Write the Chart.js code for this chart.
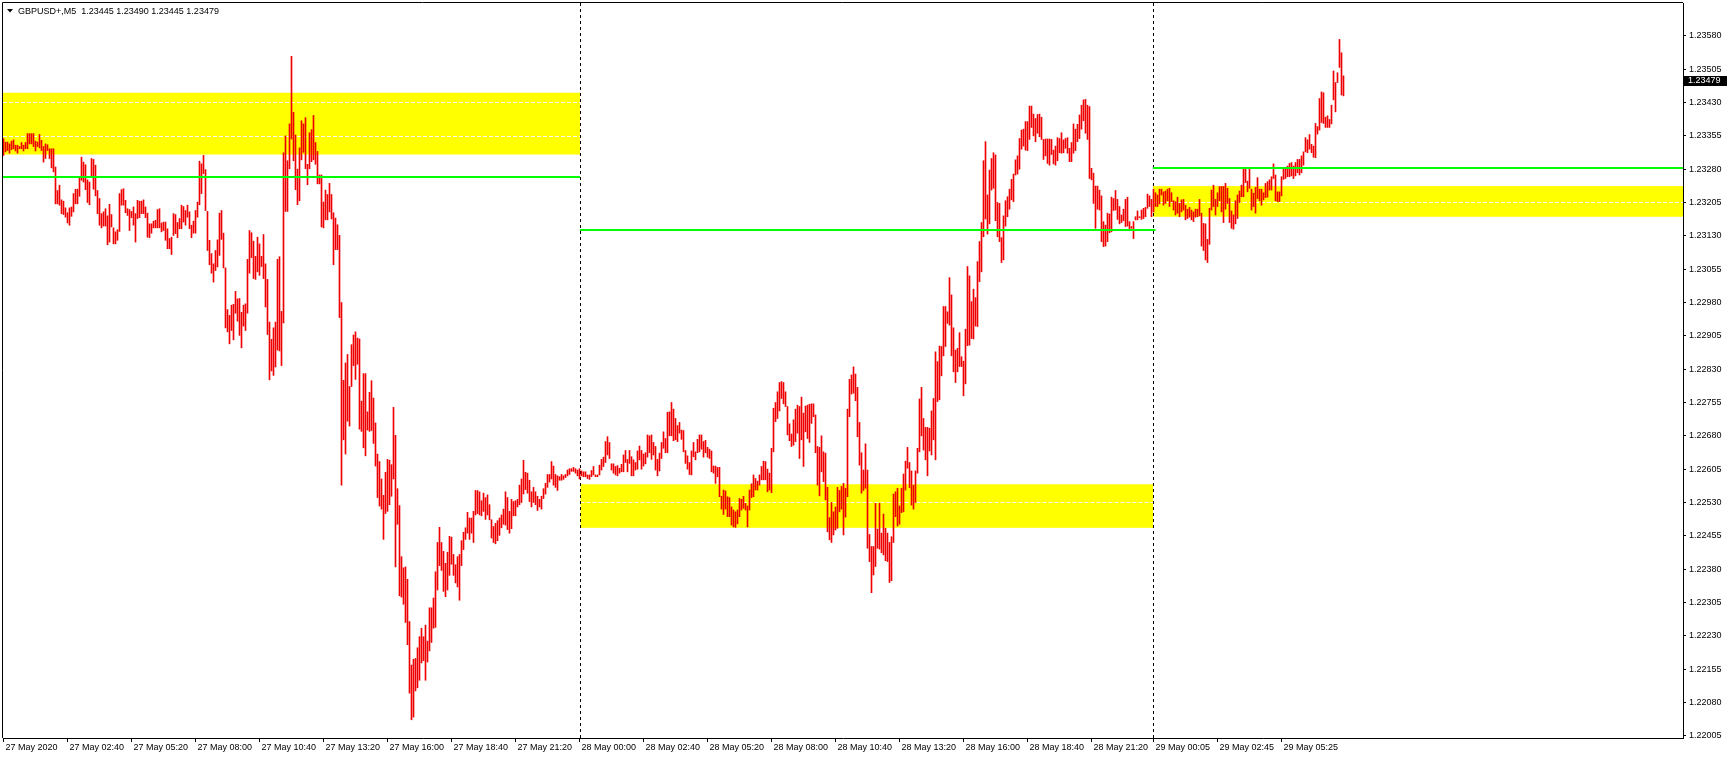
<!DOCTYPE html>
<html>
<head>
<meta charset="utf-8">
<script src="https://cdn.jsdelivr.net/npm/chart.js@4.4.0/dist/chart.umd.min.js"></script>
<style>
  html, body { margin: 0; padding: 0; background: #fff; }
</style>
</head>
<body>
<canvas id="chart" width="1729" height="759"></canvas>
<script>
// header info, last bar O H L C
const symbolName = 'GBPUSD+,M5';
const lastBar = [1.23445, 1.23490, 1.23445, 1.23479];

// time axis: one slot per M5 bar
const tickSlots = [0, 32, 64, 96, 128, 160, 192, 224, 256, 288, 320, 352, 384, 416, 448, 480, 512, 544, 575, 607, 639];
const tickLabels = ['27 May 2020', '27 May 02:40', '27 May 05:20', '27 May 08:00', '27 May 10:40', '27 May 13:20',
  '27 May 16:00', '27 May 18:40', '27 May 21:20', '28 May 00:00', '28 May 02:40', '28 May 05:20', '28 May 08:00',
  '28 May 10:40', '28 May 13:20', '28 May 16:00', '28 May 18:40', '28 May 21:20', '29 May 00:05', '29 May 02:45', '29 May 05:25'];
const priceTicks = [1.22005, 1.22080, 1.22155, 1.22230, 1.22305, 1.22380, 1.22455, 1.22530, 1.22605, 1.22680, 1.22755,
  1.22830, 1.22905, 1.22980, 1.23055, 1.23130, 1.23205, 1.23280, 1.23355, 1.23430, 1.23505, 1.23580];

const barHigh = [
  1.23349,1.23341,1.23341,1.23337,1.23343,1.23346,1.23334,1.23334,1.23331,1.23340,
  1.23334,1.23340,1.23360,1.23360,1.23360,1.23360,1.23343,1.23341,1.23358,1.23345,
  1.23331,1.23337,1.23335,1.23326,1.23326,1.23326,1.23285,1.23232,1.23244,1.23211,
  1.23208,1.23193,1.23182,1.23193,1.23195,1.23225,1.23235,1.23235,1.23262,1.23307,
  1.23296,1.23290,1.23256,1.23251,1.23304,1.23302,1.23289,1.23232,1.23214,1.23180,
  1.23184,1.23191,1.23175,1.23201,1.23178,1.23148,1.23139,1.23144,1.23225,1.23234,
  1.23236,1.23210,1.23191,1.23189,1.23185,1.23195,1.23180,1.23210,1.23208,1.23208,
  1.23211,1.23195,1.23181,1.23157,1.23157,1.23163,1.23165,1.23189,1.23191,1.23159,
  1.23161,1.23161,1.23146,1.23124,1.23127,1.23180,1.23178,1.23160,1.23169,1.23199,
  1.23196,1.23187,1.23199,1.23184,1.23154,1.23163,1.23187,1.23206,1.23298,1.23292,
  1.23311,1.23279,1.23185,1.23120,1.23090,1.23067,1.23097,1.23121,1.23181,1.23187,
  1.23136,1.23058,1.22964,1.22951,1.22974,1.22976,1.23005,1.22988,1.22989,1.22958,
  1.22974,1.22977,1.23077,1.23142,1.23137,1.23118,1.23084,1.23127,1.23112,1.23084,
  1.23133,1.23067,1.23032,1.22936,1.22897,1.22923,1.22936,1.23077,1.23083,1.22960,
  1.23317,1.23355,1.23299,1.23382,1.23534,1.23408,1.23357,1.23280,1.23328,1.23389,
  1.23382,1.23396,1.23291,1.23362,1.23369,1.23401,1.23340,1.23320,1.23267,1.23267,
  1.23206,1.23233,1.23223,1.23248,1.23223,1.23182,1.23170,1.23155,1.23131,1.22980,
  1.22805,1.22844,1.22863,1.22791,1.22885,1.22907,1.22914,1.22900,1.22898,1.22758,
  1.22820,1.22820,1.22734,1.22778,1.22804,1.22765,1.22709,1.22639,1.22622,1.22583,
  1.22546,1.22598,1.22627,1.22625,1.22615,1.22744,1.22681,1.22561,1.22523,1.22408,
  1.22383,1.22385,1.22357,1.22262,1.22164,1.22177,1.22179,1.22203,1.22228,1.22247,
  1.22228,1.22254,1.22218,1.22293,1.22293,1.22315,1.22374,1.22440,1.22474,1.22440,
  1.22420,1.22393,1.22418,1.22454,1.22452,1.22413,1.22390,1.22408,1.22413,1.22444,
  1.22463,1.22473,1.22508,1.22495,1.22495,1.22510,1.22557,1.22557,1.22554,1.22534,
  1.22551,1.22541,1.22547,1.22525,1.22491,1.22476,1.22483,1.22489,1.22495,1.22502,
  1.22515,1.22554,1.22541,1.22510,1.22537,1.22532,1.22534,1.22537,1.22569,1.22583,
  1.22625,1.22598,1.22596,1.22580,1.22554,1.22564,1.22554,1.22544,1.22537,1.22544,
  1.22561,1.22573,1.22593,1.22593,1.22622,1.22612,1.22593,1.22590,1.22588,1.22593,
  1.22590,1.22593,1.22603,1.22606,1.22606,1.22609,1.22606,1.22603,1.22606,1.22601,
  1.22599,1.22599,1.22592,1.22592,1.22602,1.22611,1.22592,1.22592,1.22614,1.22627,
  1.22632,1.22667,1.22678,1.22665,1.22617,1.22617,1.22611,1.22613,1.22607,1.22616,
  1.22637,1.22647,1.22627,1.22647,1.22633,1.22626,1.22620,1.22646,1.22657,1.22647,
  1.22639,1.22642,1.22682,1.22680,1.22682,1.22665,1.22656,1.22627,1.22641,1.22665,
  1.22689,1.22674,1.22733,1.22734,1.22755,1.22740,1.22719,1.22703,1.22710,1.22693,
  1.22692,1.22647,1.22635,1.22620,1.22646,1.22665,1.22644,1.22672,1.22682,1.22682,
  1.22667,1.22670,1.22654,1.22650,1.22646,1.22612,1.22612,1.22609,1.22609,1.22544,
  1.22558,1.22556,1.22543,1.22541,1.22520,1.22513,1.22509,1.22513,1.22539,1.22537,
  1.22544,1.22528,1.22522,1.22558,1.22572,1.22592,1.22584,1.22578,1.22592,1.22611,
  1.22623,1.22622,1.22605,1.22596,1.22652,1.22742,1.22755,1.22779,1.22800,1.22802,
  1.22800,1.22779,1.22746,1.22707,1.22684,1.22716,1.22740,1.22749,1.22746,1.22767,
  1.22731,1.22747,1.22749,1.22751,1.22752,1.22752,1.22727,1.22656,1.22654,1.22680,
  1.22644,1.22641,1.22564,1.22496,1.22530,1.22509,1.22520,1.22564,1.22557,1.22566,
  1.22573,1.22562,1.22740,1.22807,1.22817,1.22835,1.22819,1.22789,1.22710,1.22642,
  1.22603,1.22662,1.22603,1.22458,1.22431,1.22431,1.22528,1.22470,1.22528,1.22461,
  1.22504,1.22472,1.22461,1.22440,1.22453,1.22549,1.22554,1.22562,1.22522,1.22562,
  1.22594,1.22623,1.22654,1.22620,1.22601,1.22569,1.22601,1.22652,1.22763,1.22789,
  1.22719,1.22699,1.22699,1.22697,1.22736,1.22764,1.22869,1.22847,1.22882,1.22881,
  1.22971,1.22971,1.22959,1.23036,1.22997,1.22923,1.22873,1.22877,1.22912,1.22858,
  1.22848,1.22920,1.23061,1.23040,1.22982,1.23010,1.22991,1.23072,1.23117,1.23160,
  1.23299,1.23342,1.23222,1.23278,1.23304,1.23317,1.23312,1.23205,1.23203,1.23126,
  1.23175,1.23209,1.23218,1.23235,1.23257,1.23269,1.23301,1.23310,1.23349,1.23368,
  1.23370,1.23387,1.23387,1.23422,1.23422,1.23404,1.23394,1.23403,1.23404,1.23397,
  1.23347,1.23348,1.23348,1.23348,1.23347,1.23323,1.23332,1.23351,1.23349,1.23362,
  1.23346,1.23349,1.23351,1.23327,1.23340,1.23382,1.23370,1.23381,1.23402,1.23424,
  1.23436,1.23437,1.23424,1.23421,1.23282,1.23271,1.23242,1.23242,1.23233,1.23220,
  1.23162,1.23154,1.23181,1.23179,1.23217,1.23214,1.23232,1.23212,1.23196,1.23177,
  1.23190,1.23212,1.23217,1.23162,1.23151,1.23162,1.23173,1.23186,1.23173,1.23188,
  1.23192,1.23194,1.23224,1.23220,1.23212,1.23235,1.23227,1.23222,1.23235,1.23235,
  1.23229,1.23231,1.23235,1.23237,1.23227,1.23209,1.23207,1.23217,1.23203,1.23211,
  1.23212,1.23199,1.23190,1.23194,1.23188,1.23184,1.23190,1.23190,1.23212,1.23181,
  1.23158,1.23157,1.23122,1.23192,1.23233,1.23244,1.23212,1.23227,1.23241,1.23241,
  1.23241,1.23248,1.23237,1.23214,1.23186,1.23177,1.23209,1.23222,1.23231,1.23244,
  1.23282,1.23282,1.23253,1.23282,1.23235,1.23226,1.23239,1.23261,1.23235,1.23235,
  1.23227,1.23248,1.23252,1.23256,1.23263,1.23292,1.23267,1.23229,1.23229,1.23263,
  1.23282,1.23284,1.23287,1.23293,1.23295,1.23287,1.23295,1.23302,1.23302,1.23310,
  1.23319,1.23351,1.23346,1.23358,1.23336,1.23332,1.23383,1.23376,1.23439,1.23454,
  1.23452,1.23397,1.23400,1.23392,1.23424,1.23501,1.23475,1.23497,1.23572,1.23542,
  1.23490
];
const barLow = [
  1.23311,1.23319,1.23322,1.23316,1.23324,1.23326,1.23321,1.23316,1.23326,1.23326,
  1.23321,1.23326,1.23326,1.23337,1.23337,1.23331,1.23321,1.23331,1.23328,1.23322,
  1.23296,1.23304,1.23322,1.23304,1.23283,1.23274,1.23202,1.23202,1.23199,1.23180,
  1.23178,1.23172,1.23159,1.23154,1.23174,1.23184,1.23202,1.23202,1.23219,1.23255,
  1.23251,1.23234,1.23205,1.23200,1.23261,1.23235,1.23220,1.23180,1.23154,1.23148,
  1.23152,1.23152,1.23110,1.23116,1.23150,1.23112,1.23112,1.23120,1.23140,1.23199,
  1.23199,1.23182,1.23176,1.23142,1.23171,1.23154,1.23116,1.23169,1.23171,1.23180,
  1.23180,1.23171,1.23127,1.23126,1.23136,1.23148,1.23148,1.23148,1.23148,1.23139,
  1.23142,1.23120,1.23101,1.23101,1.23088,1.23131,1.23135,1.23126,1.23146,1.23146,
  1.23161,1.23154,1.23172,1.23146,1.23126,1.23136,1.23136,1.23172,1.23200,1.23225,
  1.23270,1.23187,1.23097,1.23065,1.23046,1.23026,1.23052,1.23060,1.23086,1.23122,
  1.23058,1.22923,1.22914,1.22887,1.22917,1.22896,1.22956,1.22938,1.22906,1.22878,
  1.22927,1.22917,1.22956,1.23046,1.23081,1.23034,1.23032,1.23049,1.23041,1.23061,
  1.23034,1.22970,1.22908,1.22806,1.22826,1.22816,1.22835,1.22873,1.22871,1.22838,
  1.22934,1.23185,1.23185,1.23281,1.23348,1.23299,1.23234,1.23200,1.23209,1.23301,
  1.23318,1.23281,1.23245,1.23281,1.23297,1.23301,1.23291,1.23247,1.23247,1.23150,
  1.23148,1.23166,1.23166,1.23184,1.23168,1.23065,1.23099,1.23099,1.22946,1.22569,
  1.22671,1.22639,1.22713,1.22702,1.22791,1.22838,1.22807,1.22841,1.22695,1.22690,
  1.22653,1.22635,1.22693,1.22690,1.22692,1.22663,1.22612,1.22541,1.22522,1.22515,
  1.22447,1.22505,1.22510,1.22525,1.22544,1.22583,1.22385,1.22481,1.22320,1.22317,
  1.22301,1.22260,1.22210,1.22101,1.22041,1.22047,1.22106,1.22113,1.22130,1.22169,
  1.22174,1.22130,1.22171,1.22196,1.22215,1.22247,1.22249,1.22333,1.22388,1.22377,
  1.22330,1.22318,1.22333,1.22366,1.22391,1.22366,1.22349,1.22340,1.22310,1.22388,
  1.22424,1.22447,1.22461,1.22447,1.22461,1.22440,1.22502,1.22505,1.22502,1.22500,
  1.22510,1.22492,1.22502,1.22491,1.22450,1.22440,1.22437,1.22444,1.22456,1.22473,
  1.22481,1.22479,1.22469,1.22461,1.22471,1.22500,1.22500,1.22520,1.22525,1.22530,
  1.22549,1.22559,1.22551,1.22532,1.22520,1.22530,1.22525,1.22512,1.22520,1.22515,
  1.22539,1.22549,1.22564,1.22576,1.22583,1.22569,1.22564,1.22557,1.22580,1.22580,
  1.22582,1.22586,1.22590,1.22593,1.22600,1.22600,1.22596,1.22590,1.22583,1.22590,
  1.22588,1.22588,1.22584,1.22582,1.22588,1.22592,1.22588,1.22588,1.22592,1.22603,
  1.22611,1.22620,1.22637,1.22629,1.22603,1.22596,1.22592,1.22590,1.22596,1.22599,
  1.22599,1.22620,1.22599,1.22618,1.22590,1.22590,1.22603,1.22605,1.22626,1.22605,
  1.22612,1.22617,1.22632,1.22642,1.22627,1.22637,1.22603,1.22590,1.22601,1.22629,
  1.22652,1.22642,1.22642,1.22680,1.22680,1.22669,1.22671,1.22667,1.22686,1.22672,
  1.22644,1.22618,1.22605,1.22593,1.22592,1.22633,1.22626,1.22642,1.22644,1.22650,
  1.22632,1.22642,1.22632,1.22629,1.22599,1.22596,1.22573,1.22588,1.22543,1.22515,
  1.22503,1.22515,1.22498,1.22498,1.22479,1.22475,1.22474,1.22482,1.22498,1.22513,
  1.22517,1.22513,1.22475,1.22513,1.22541,1.22543,1.22558,1.22558,1.22569,1.22581,
  1.22581,1.22581,1.22554,1.22558,1.22552,1.22644,1.22712,1.22719,1.22736,1.22764,
  1.22752,1.22746,1.22682,1.22669,1.22656,1.22659,1.22667,1.22686,1.22629,1.22671,
  1.22611,1.22689,1.22674,1.22665,1.22708,1.22723,1.22642,1.22569,1.22545,1.22599,
  1.22577,1.22536,1.22464,1.22446,1.22440,1.22457,1.22468,1.22472,1.22509,1.22515,
  1.22457,1.22497,1.22543,1.22723,1.22774,1.22776,1.22759,1.22678,1.22614,1.22551,
  1.22557,1.22562,1.22427,1.22397,1.22327,1.22367,1.22386,1.22427,1.22425,1.22417,
  1.22412,1.22399,1.22397,1.22350,1.22354,1.22440,1.22498,1.22477,1.22481,1.22507,
  1.22509,1.22558,1.22607,1.22563,1.22524,1.22515,1.22530,1.22596,1.22644,1.22680,
  1.22648,1.22626,1.22590,1.22646,1.22637,1.22671,1.22626,1.22757,1.22761,1.22815,
  1.22860,1.22881,1.22933,1.22929,1.22860,1.22824,1.22800,1.22824,1.22836,1.22836,
  1.22770,1.22797,1.22883,1.22884,1.22899,1.22898,1.22927,1.22926,1.23027,1.23049,
  1.23128,1.23168,1.23134,1.23157,1.23233,1.23237,1.23164,1.23128,1.23117,1.23070,
  1.23076,1.23152,1.23173,1.23190,1.23211,1.23207,1.23267,1.23269,1.23280,1.23325,
  1.23332,1.23323,1.23322,1.23347,1.23374,1.23355,1.23342,1.23361,1.23353,1.23347,
  1.23302,1.23310,1.23293,1.23289,1.23313,1.23292,1.23289,1.23299,1.23317,1.23316,
  1.23317,1.23327,1.23316,1.23297,1.23297,1.23316,1.23322,1.23342,1.23349,1.23370,
  1.23389,1.23361,1.23347,1.23259,1.23256,1.23203,1.23147,1.23190,1.23188,1.23117,
  1.23106,1.23107,1.23117,1.23137,1.23139,1.23187,1.23188,1.23167,1.23157,1.23160,
  1.23164,1.23151,1.23152,1.23143,1.23147,1.23124,1.23166,1.23166,1.23171,1.23167,
  1.23169,1.23173,1.23192,1.23196,1.23173,1.23184,1.23196,1.23196,1.23202,1.23222,
  1.23199,1.23203,1.23209,1.23196,1.23207,1.23188,1.23177,1.23181,1.23173,1.23184,
  1.23188,1.23166,1.23169,1.23172,1.23166,1.23162,1.23172,1.23173,1.23175,1.23107,
  1.23097,1.23076,1.23070,1.23111,1.23188,1.23196,1.23177,1.23196,1.23209,1.23184,
  1.23160,1.23190,1.23203,1.23160,1.23147,1.23145,1.23157,1.23169,1.23205,1.23218,
  1.23218,1.23250,1.23229,1.23237,1.23188,1.23196,1.23181,1.23214,1.23209,1.23199,
  1.23211,1.23216,1.23217,1.23233,1.23233,1.23259,1.23209,1.23207,1.23207,1.23220,
  1.23257,1.23259,1.23263,1.23263,1.23265,1.23259,1.23265,1.23272,1.23267,1.23272,
  1.23289,1.23319,1.23317,1.23325,1.23317,1.23307,1.23306,1.23359,1.23368,1.23385,
  1.23383,1.23374,1.23374,1.23374,1.23382,1.23436,1.23409,1.23475,1.23509,1.23447,
  1.23445
];

// yellow zones (slot range, price range, white dashed levels inside)
const zoneFrom = [-0.25, 288.5, 574.75];
const zoneTo = [288.25, 574.75, 839.75];
const zoneTop = [1.23452, 1.22571, 1.23242];
const zoneBottom = [1.23313, 1.22473, 1.23173];
const zoneDashes = [[1.23432, 1.23355], [1.22530], [1.23207]];
// green levels
const levelFrom = [-0.25, 288.25, 574.75];
const levelTo = [288.25, 576, 839.75];
const levelPrice = [1.23263, 1.23144, 1.23283];
// day separators
const separatorSlots = [288.25, 574.75];

const fontName = '"Liberation Sans", Arial, sans-serif';

const overlayPlugin = {
    id: 'overlayPlugin',
    beforeDatasetsDraw(chart) {
        const { ctx, chartArea: a, scales: { x, y } } = chart;
        ctx.save();
        ctx.beginPath();
        ctx.rect(a.left, a.top, a.right - a.left, a.bottom - a.top);
        ctx.clip();
        zoneFrom.forEach((f, k) => {
            const x0 = x.getPixelForValue(f), x1 = x.getPixelForValue(zoneTo[k]);
            const y0 = y.getPixelForValue(zoneTop[k]), y1 = y.getPixelForValue(zoneBottom[k]);
            ctx.fillStyle = '#ffff00';
            ctx.fillRect(x0, y0, x1 - x0, y1 - y0);
            ctx.strokeStyle = '#ffffff';
            ctx.lineWidth = 1;
            ctx.setLineDash([4, 2]);
            zoneDashes[k].forEach(p => {
                const yy = Math.round(y.getPixelForValue(p)) + 0.5;
                ctx.beginPath();
                ctx.moveTo(x0, yy);
                ctx.lineTo(x1, yy);
                ctx.stroke();
            });
        });
        // period separators
        ctx.strokeStyle = '#000000';
        ctx.setLineDash([3, 3]);
        separatorSlots.forEach(s => {
            const xx = Math.round(x.getPixelForValue(s)) + 0.5;
            ctx.beginPath();
            ctx.moveTo(xx, a.top);
            ctx.lineTo(xx, a.bottom);
            ctx.stroke();
        });
        ctx.restore();
    },
    afterDatasetsDraw(chart) {
        const { ctx, chartArea: a, scales: { x, y } } = chart;
        ctx.save();
        // green horizontal levels drawn over the bars
        ctx.strokeStyle = '#00ff00';
        ctx.lineWidth = 2;
        levelPrice.forEach((p, k) => {
            const yy = Math.round(y.getPixelForValue(p));
            ctx.beginPath();
            ctx.moveTo(x.getPixelForValue(levelFrom[k]), yy);
            ctx.lineTo(Math.min(x.getPixelForValue(levelTo[k]), a.right), yy);
            ctx.stroke();
        });
        // frame on left and top
        ctx.strokeStyle = '#000000';
        ctx.lineWidth = 1;
        ctx.beginPath();
        ctx.moveTo(a.left - 0.5, a.bottom);
        ctx.lineTo(a.left - 0.5, a.top - 0.5);
        ctx.lineTo(a.right, a.top - 0.5);
        ctx.stroke();
        // header
        ctx.fillStyle = '#000000';
        ctx.beginPath();
        ctx.moveTo(7, 9);
        ctx.lineTo(13, 9);
        ctx.lineTo(10, 12.5);
        ctx.closePath();
        ctx.fill();
        ctx.font = '9px ' + fontName;
        ctx.textBaseline = 'alphabetic';
        ctx.textAlign = 'left';
        ctx.fillText(symbolName + '  ' + lastBar.map(v => v.toFixed(5)).join(' '), 18, 14);
        // current price marker
        const py = Math.round(y.getPixelForValue(lastBar[3]));
        ctx.fillRect(a.right + 1, py - 5, 43, 10);
        ctx.fillStyle = '#ffffff';
        ctx.textBaseline = 'middle';
        ctx.fillText(lastBar[3].toFixed(5), a.right + 5, py);
        ctx.restore();
    }
};

// keep the plot area exactly where the axes say, no label overflow padding
function noPad(s) {
    s.paddingTop = 0;
    s.paddingBottom = 0;
    s.paddingLeft = 0;
    s.paddingRight = 0;
}

const ctx = document.getElementById('chart').getContext('2d');
const chart = new Chart(ctx, {
    type: 'bar',
    data: {
        datasets: [{
            data: barHigh.map((h, i) => ({ x: i, y: [barLow[i], h] })),
            backgroundColor: '#ee0000',
            borderWidth: 0,
            barThickness: 1,
            grouped: false
        }]
    },
    options: {
        responsive: false,
        animation: false,
        devicePixelRatio: 1,
        layout: { padding: { left: 3, top: 3, right: 0, bottom: 0 } },
        plugins: {
            legend: { display: false },
            tooltip: { enabled: false }
        },
        scales: {
            x: {
                type: 'linear',
                min: -0.25,
                max: 839.75,
                offset: false,
                afterBuildTicks: s => { s.ticks = tickSlots.map(v => ({ value: v })); },
                afterFit: s => { s.height = 21; noPad(s); },
                grid: { drawOnChartArea: false, offset: false, tickLength: 4, color: '#000000' },
                border: { display: true, color: '#000000' },
                ticks: {
                    align: 'start',
                    labelOffset: 2,
                    padding: 0,
                    maxRotation: 0,
                    autoSkip: false,
                    color: '#000000',
                    font: { family: fontName, size: 9 },
                    callback: v => tickLabels[tickSlots.indexOf(v)]
                }
            },
            y: {
                type: 'linear',
                position: 'right',
                min: 1.22,
                max: 1.23654,
                afterBuildTicks: s => { s.ticks = priceTicks.map(v => ({ value: v })); },
                afterFit: s => { s.width = 46; noPad(s); },
                grid: { drawOnChartArea: false, tickLength: 3, color: '#000000' },
                border: { display: true, color: '#000000' },
                ticks: {
                    padding: 3,
                    color: '#000000',
                    font: { family: fontName, size: 9 },
                    callback: v => v.toFixed(5)
                }
            }
        }
    },
    plugins: [overlayPlugin]
});
</script>
</body>
</html>
